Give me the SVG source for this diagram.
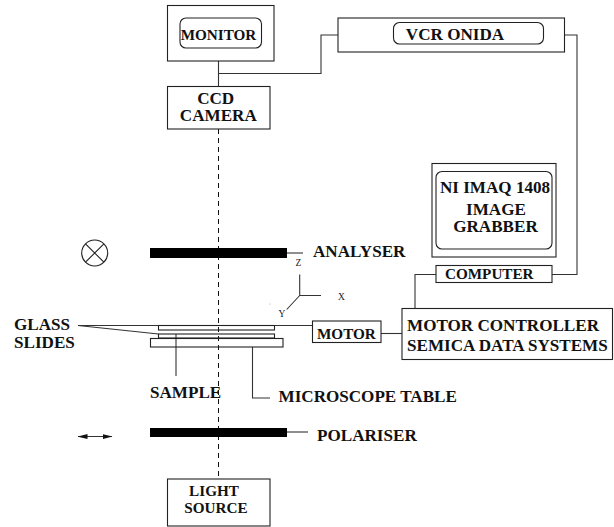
<svg xmlns="http://www.w3.org/2000/svg" width="614" height="527" viewBox="0 0 614 527">
<style>
.b{fill:none;stroke:#222;stroke-width:1.1}
.l{fill:none;stroke:#333;stroke-width:1.1}
.t{font-family:"Liberation Serif","Times New Roman",serif;font-weight:bold;font-size:15.2px;fill:#111}
.g{font-size:17.1px}
.s{font-family:"Liberation Serif","Times New Roman",serif;font-size:9.5px;fill:#222}
.m{text-anchor:middle}
.bar{fill:#000}
</style>
<defs>
<marker id="ah" markerWidth="10" markerHeight="6" refX="9.5" refY="3" orient="auto-start-reverse" markerUnits="userSpaceOnUse"><path d="M0 0.5 L10 3 L0 5.5 Z" fill="#111"/></marker>
</defs>
<rect width="614" height="527" fill="#fff"/>
<g id="connectors">
<path class="l" d="M218.5 61V86M218.5 73.5H321V35H338"/>
<path class="l" d="M564.5 35H577V274.5H552"/>
<path class="l" d="M436 274.5H415V308.5"/>
<path class="l" d="M381 333.5H402"/>
<path d="M218.5 129V479" fill="none" stroke="#111" stroke-width="1" stroke-dasharray="5 4"/>
<path class="l" d="M287 253H303"/>
<path class="l" d="M287 432H308"/>
<path class="l" d="M78 325.5H312.5M78 325.5L158.5 334"/>
<path class="l" d="M176 334V376"/>
<path class="l" d="M252.5 347V398H270"/>
<path class="l" d="M78 436.5H112" marker-start="url(#ah)" marker-end="url(#ah)"/>
</g>
<g id="monitor"><rect class="b" x="167.5" y="5.5" width="106.5" height="55.5"/><rect class="b" x="180" y="18" width="81.5" height="30" rx="6"/><text class="t m" x="218.5" y="40">MONITOR</text></g>
<g id="ccd-camera"><rect class="b" x="167.5" y="86.5" width="102.5" height="42.5"/><text class="t g m" x="215.7" y="104">CCD</text><text class="t g m" x="218.3" y="120.7">CAMERA</text></g>
<g id="vcr"><rect class="b" x="338" y="18" width="226.5" height="34"/><rect class="b" x="393.5" y="22.5" width="150" height="21.5" rx="6"/><text class="t g m" x="455" y="40">VCR ONIDA</text></g>
<g id="image-grabber"><rect class="b" x="432" y="163.5" width="124" height="93.5"/><rect class="b" x="436" y="171.5" width="116" height="77.5" rx="6"/><text class="t g m" x="495" y="193.3">NI IMAQ 1408</text><text class="t g m" x="496" y="215">IMAGE</text><text class="t g m" x="495.5" y="232">GRABBER</text></g>
<g id="computer"><rect class="b" x="436" y="265.5" width="116" height="17"/><text class="t" x="445" y="279.3">COMPUTER</text></g>
<g id="motor-controller"><rect class="b" x="402" y="308.5" width="210.5" height="51"/><text class="t g" x="407" y="331">MOTOR CONTROLLER</text><text class="t g" x="407" y="351">SEMICA DATA SYSTEMS</text></g>
<g id="motor"><rect class="b" x="312.5" y="321" width="68.5" height="21.5"/><text class="t" x="317" y="339">MOTOR</text></g>
<g id="analyser"><rect class="bar" x="150" y="248" width="137" height="10"/><text class="t g" x="313" y="256.7">ANALYSER</text></g>
<g id="analyser-symbol"><circle class="b" cx="94.7" cy="253" r="13"/><path class="b" d="M85.5 243.8L103.9 262.2M103.9 243.8L85.5 262.2"/></g>
<g id="axes"><path class="l" d="M299.7 274.5V295.5H321M299.7 295.5L286.7 309.5"/><text class="s m" x="298.5" y="266">Z</text><text class="s m" x="341.5" y="300">X</text><text class="s m" x="282" y="317">Y</text><circle cx="270" cy="304" r="0.4" fill="#444"/></g>
<g id="glass-slides"><rect class="b" x="158.5" y="325.5" width="116" height="4.5"/><rect class="b" x="158.5" y="334" width="116" height="4"/><text class="t g" x="14" y="330">GLASS</text><text class="t g" x="14" y="347.7">SLIDES</text></g>
<g id="microscope-table"><rect class="b" x="150.5" y="338.5" width="132.5" height="8.5"/><text class="t g" x="278.5" y="402">MICROSCOPE TABLE</text></g>
<g id="sample"><text class="t g" x="150" y="397.7">SAMPLE</text></g>
<g id="polariser"><rect class="bar" x="150" y="428" width="137" height="9"/><text class="t g" x="317" y="441">POLARISER</text></g>
<g id="light-source"><rect class="b" x="167.5" y="479" width="102.5" height="47"/><text class="t m" x="214" y="496">LIGHT</text><text class="t m" x="216" y="513">SOURCE</text></g>
</svg>
